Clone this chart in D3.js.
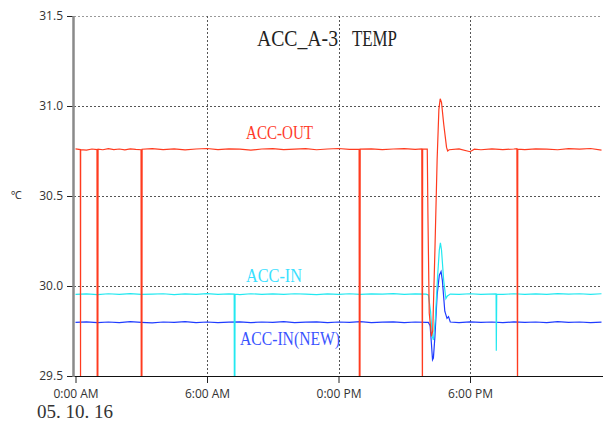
<!DOCTYPE html>
<html>
<head>
<meta charset="utf-8">
<script src="https://cdn.jsdelivr.net/npm/d3@7"></script>
<style>
    body { margin: 0; background: #fff; }
    .tick text { font-family: "Open Sans", sans-serif; font-size: 12px; fill: #333; }
    .tick line { stroke: #222; }
</style>
</head>
<body>
<div id="chart"></div>
<script>
// hours since 0:00 AM, temperature in degC
var accOut = [
    [0.00,30.762],[0.22,30.758],[0.23,29.30],[0.235,30.758],[0.50,30.755],[0.75,30.761],
    [0.98,30.758],[0.99,29.30],[1.02,29.30],[1.03,30.760],[1.25,30.757],[1.50,30.763],
    [1.75,30.758],[2.00,30.761],[2.25,30.756],[2.50,30.762],[2.75,30.759],
    [2.99,30.757],[3.00,29.30],[3.03,29.30],[3.04,30.760],[3.50,30.763],[4.00,30.758],
    [4.50,30.762],[5.00,30.756],[5.50,30.761],[6.00,30.764],[6.50,30.758],[7.00,30.762],
    [7.50,30.760],[8.00,30.755],[8.50,30.761],[9.00,30.763],[9.50,30.758],[10.00,30.760],
    [10.50,30.763],[11.00,30.757],[11.50,30.761],[12.00,30.764],[12.50,30.759],
    [12.94,30.760],[12.95,29.30],[12.98,29.30],[12.99,30.760],[13.50,30.762],[14.00,30.758],
    [14.50,30.761],[15.00,30.763],[15.50,30.759],[15.80,30.762],[15.81,30.13],[15.83,29.30],
    [15.84,30.760],[16.05,30.760],[16.08,30.40],[16.14,29.85],[16.24,29.72],[16.30,29.75],
    [16.40,30.20],[16.50,30.70],[16.58,30.98],[16.64,31.04],[16.70,31.02],[16.80,30.90],
    [16.93,30.77],[16.98,30.750],[17.05,30.757],[17.50,30.762],[18.00,30.746],[18.20,30.760],
    [18.50,30.757],[19.00,30.762],[19.50,30.758],[20.00,30.761],[20.14,30.763],[20.15,30.13],
    [20.17,29.30],[20.18,30.760],[20.50,30.758],[21.00,30.762],[21.50,30.760],[22.00,30.757],
    [22.50,30.763],[23.00,30.760],[23.50,30.764],[24.00,30.755]
];

var accIn = [
    [0.00,29.953],[0.50,29.956],[1.00,29.952],[1.50,29.957],[2.00,29.954],[2.50,29.958],
    [3.00,29.953],[3.50,29.955],[4.00,29.957],[4.50,29.952],[5.00,29.956],[5.50,29.954],
    [6.00,29.958],[6.50,29.953],[7.00,29.956],[7.24,29.955],[7.25,29.30],[7.27,29.30],
    [7.28,29.955],[7.50,29.952],[8.00,29.957],[8.50,29.954],[9.00,29.956],[9.50,29.953],
    [10.00,29.957],[10.50,29.955],[11.00,29.952],[11.50,29.956],[12.00,29.954],[12.50,29.957],
    [13.00,29.953],[13.50,29.956],[14.00,29.955],[14.50,29.958],[15.00,29.953],[15.50,29.956],
    [16.00,29.955],[16.10,29.950],[16.20,29.86],[16.28,29.72],[16.33,29.70],[16.42,29.82],
    [16.52,30.05],[16.60,30.20],[16.65,30.24],[16.70,30.20],[16.80,30.03],[16.90,29.93],
    [16.97,29.945],[17.10,29.955],[17.50,29.953],[18.00,29.957],[18.50,29.954],
    [19.19,29.956],[19.20,29.64],[19.22,29.955],[19.50,29.953],[20.00,29.957],[20.50,29.954],
    [21.00,29.956],[21.50,29.953],[22.00,29.958],[22.50,29.955],[23.00,29.957],[23.50,29.954],
    [24.00,29.957]
];

var accInNew = [
    [0.00,29.798],[0.50,29.801],[1.00,29.796],[1.50,29.800],[2.00,29.797],[2.50,29.802],
    [3.00,29.798],[3.50,29.795],[4.00,29.800],[4.50,29.798],[5.00,29.802],[5.50,29.797],
    [6.00,29.800],[6.50,29.796],[7.00,29.799],[7.50,29.801],[8.00,29.797],[8.50,29.800],
    [9.00,29.798],[9.50,29.802],[10.00,29.797],[10.50,29.799],[11.00,29.801],[11.50,29.796],
    [12.00,29.800],[12.50,29.798],[13.00,29.802],[13.50,29.797],[14.00,29.799],[14.50,29.801],
    [15.00,29.797],[15.50,29.800],[16.00,29.798],[16.10,29.798],[16.18,29.78],[16.24,29.68],
    [16.29,29.59],[16.33,29.60],[16.40,29.72],[16.50,29.95],[16.60,30.06],[16.68,30.08],
    [16.74,30.03],[16.85,29.86],[16.95,29.82],[17.02,29.83],[17.10,29.800],[17.50,29.797],
    [18.00,29.801],[18.50,29.798],[19.00,29.800],[19.50,29.796],[20.00,29.801],[20.50,29.798],
    [21.00,29.800],[21.50,29.797],[22.00,29.802],[22.50,29.798],[23.00,29.800],[23.50,29.797],
    [24.00,29.799]
];

var seriesNames = ["ACC-IN(NEW)", "ACC-IN", "ACC-OUT"];
var seriesColors = ["#1f3cff", "#22e8f0", "#ff3b1f"];
var labelColors = ["#3a55ff", "#3ae0ff", "#ff3a2a"];
var yTicks = [29.5, 30.0, 30.5, 31.0, 31.5];
var xTicks = [0, 6, 12, 18];
var xLabels = ["0:00 AM", "6:00 AM", "0:00 PM", "6:00 PM"];
var titleParts = ["ACC_A-3", "TEMP"];

var width = 606, height = 421;
var x = d3.scaleLinear().domain([0, 24]).range([75.5, 601.5]);
var y = d3.scaleLinear().domain([29.5, 31.5]).range([376, 16]);

var svg = d3.select("#chart").append("svg")
    .attr("width", width)
    .attr("height", height);

svg.append("defs").append("clipPath")
    .attr("id", "plotClip")
  .append("rect")
    .attr("x", 74)
    .attr("y", y(31.5))
    .attr("width", 530)
    .attr("height", y(29.5) - y(31.5));

// grid
svg.selectAll(".hgrid")
    .data(yTicks.filter(d => d > 29.5))
    .enter().append("line")
    .attr("class", "hgrid")
    .attr("x1", 74).attr("x2", 602)
    .attr("y1", d => y(d) + 0.5).attr("y2", d => y(d) + 0.5)
    .style("stroke", d => d == 31.5 ? "#999" : "#555")
    .style("stroke-dasharray", "2,2");

svg.selectAll(".vgrid")
    .data(xTicks.filter(d => d > 0))
    .enter().append("line")
    .attr("class", "vgrid")
    .attr("x1", d => Math.round(x(d)) + 0.5).attr("x2", d => Math.round(x(d)) + 0.5)
    .attr("y1", y(31.5)).attr("y2", y(29.5))
    .style("stroke", "#555")
    .style("stroke-dasharray", "2,2");

// series
var line = d3.line()
    .x(d => x(d[0]))
    .y(d => y(d[1]));

var plot = svg.append("g").attr("clip-path", "url(#plotClip)");
[accInNew, accIn, accOut].forEach(function (data, i) {
    plot.append("path")
        .datum(data)
        .attr("d", line)
        .style("fill", "none")
        .style("stroke", seriesColors[i])
        .style("stroke-width", 1.2);
});

// axes
var yAxis = svg.append("g")
    .attr("transform", "translate(73,0)")
    .call(d3.axisLeft(y).tickValues(yTicks).tickFormat(d3.format(".1f")).tickSize(6).tickPadding(4));
yAxis.select(".domain").remove();

var xAxis = svg.append("g")
    .attr("transform", "translate(0,376)")
    .call(d3.axisBottom(x).tickValues(xTicks).tickFormat((d, i) => xLabels[i]).tickSize(7).tickPadding(6));
xAxis.select(".domain").remove();

svg.append("line")
    .attr("x1", 72.5).attr("x2", 603)
    .attr("y1", 376.5).attr("y2", 376.5)
    .style("stroke", "#111");

svg.append("line")
    .attr("x1", 73.5).attr("x2", 73.5)
    .attr("y1", y(31.5)).attr("y2", 377)
    .style("stroke", "#8a8a8a")
    .style("stroke-width", 2.5);

// text
var titlePos = [[257, 81], [352, 45]];
titleParts.forEach(function (t, i) {
    svg.append("text")
        .text(t)
        .attr("x", titlePos[i][0]).attr("y", 46)
        .attr("textLength", titlePos[i][1]).attr("lengthAdjust", "spacingAndGlyphs")
        .style("font-family", "'Liberation Serif', serif")
        .style("font-size", "23px")
        .style("fill", "#222");
});

var labelPos = [[240, 345, 100], [246, 282, 56], [246, 139, 67]];
seriesNames.forEach(function (name, i) {
    svg.append("text")
        .text(name)
        .attr("x", labelPos[i][0]).attr("y", labelPos[i][1])
        .attr("textLength", labelPos[i][2]).attr("lengthAdjust", "spacingAndGlyphs")
        .style("font-family", "'Liberation Serif', serif")
        .style("font-size", "19px")
        .style("fill", labelColors[i]);
});

svg.append("text")
    .text("\u2103")
    .attr("x", 11).attr("y", 199)
    .style("font-family", "'Noto Sans', sans-serif")
    .style("font-size", "11px")
    .style("fill", "#333");

svg.append("text")
    .text("05. 10. 16")
    .attr("x", 37).attr("y", 418)
    .attr("textLength", 76).attr("lengthAdjust", "spacingAndGlyphs")
    .style("font-family", "'Liberation Serif', serif")
    .style("font-size", "18px")
    .style("fill", "#333");
</script>
</body>
</html>
